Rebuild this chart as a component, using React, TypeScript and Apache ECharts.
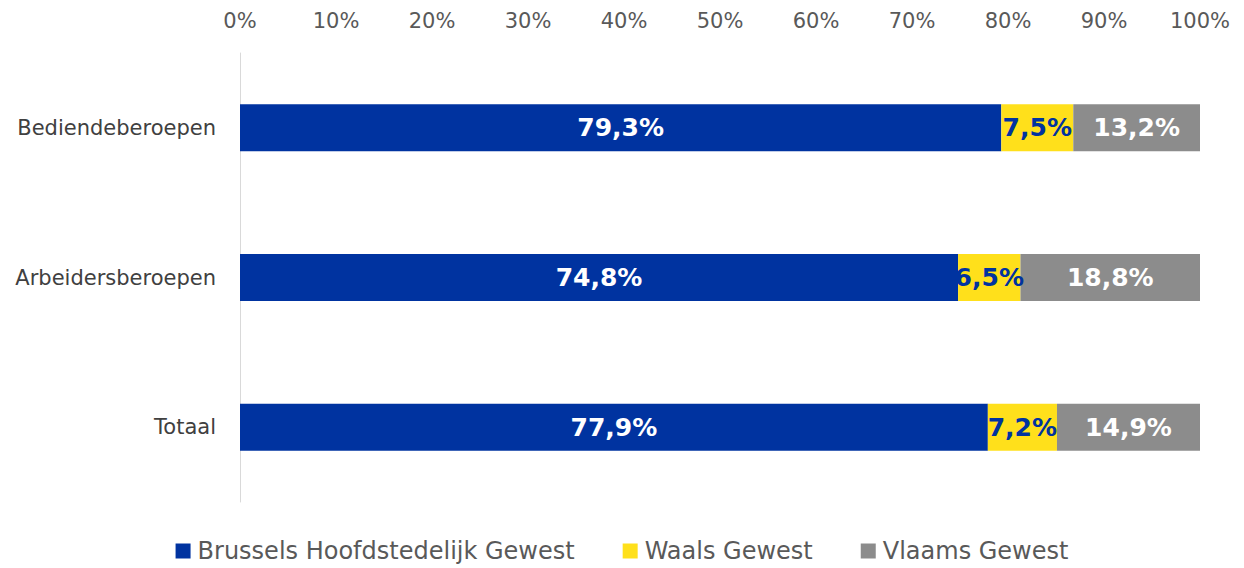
import React, { useEffect, useRef } from "react";
import * as echarts from "echarts";

const categories = ["Bediendeberoepen", "Arbeidersberoepen", "Totaal"];
const brussels = [79.3, 74.8, 77.9];
const waals = [7.5, 6.5, 7.2];
const vlaams = [13.2, 18.8, 14.9];
const seriesNames = ["Brussels Hoofdstedelijk Gewest", "Waals Gewest", "Vlaams Gewest"];
const colors = ["#0033A0", "#FFE01B", "#8C8C8C"];
const labelColors = ["#FFFFFF", "#0033A0", "#FFFFFF"];

const FONT = "'DejaVu Sans', sans-serif";

export default function App() {
  const ref = useRef<HTMLDivElement>(null);
  useEffect(() => {
    document.body.style.margin = "0";
    const chart = echarts.init(ref.current!, null, { renderer: "svg" });
    const data = [brussels, waals, vlaams];
    chart.setOption({
      animation: false,
      textStyle: { fontFamily: FONT },
      grid: { left: 240, right: 44, top: 53, bottom: 66, containLabel: false },
      legend: {
        bottom: 0,
        left: "center",
        itemWidth: 15,
        itemHeight: 15,
        itemGap: 48,
        icon: "rect",
        textStyle: { fontSize: 24, color: "#595959", fontFamily: FONT, padding: [0, 0, 0, 2] },
        data: seriesNames,
      },
      xAxis: {
        type: "value",
        position: "top",
        min: 0,
        max: 100,
        interval: 10,
        axisLabel: { formatter: "{value}%", fontSize: 21, color: "#595959", margin: 22 },
        axisLine: { show: false },
        axisTick: { show: false },
        splitLine: { show: false },
      },
      yAxis: {
        type: "category",
        inverse: true,
        data: categories,
        axisLine: { show: true, lineStyle: { color: "#D9D9D9", width: 1 } },
        axisTick: { show: false },
        axisLabel: { fontSize: 21, color: "#404040", margin: 24 },
      },
      series: seriesNames.map((name, i) => ({
        name,
        type: "bar",
        stack: "total",
        barWidth: 47,
        data: data[i],
        itemStyle: { color: colors[i] },
        label: {
          show: true,
          position: "inside",
          color: labelColors[i],
          fontSize: 25,
          fontWeight: "bold",
          fontFamily: FONT,
          formatter: (p: any) => p.value.toFixed(1).replace(".", ",") + "%",
        },
      })),
    });
    return () => chart.dispose();
  }, []);
  return <div ref={ref} style={{ width: 1244, height: 568 }} />;
}
